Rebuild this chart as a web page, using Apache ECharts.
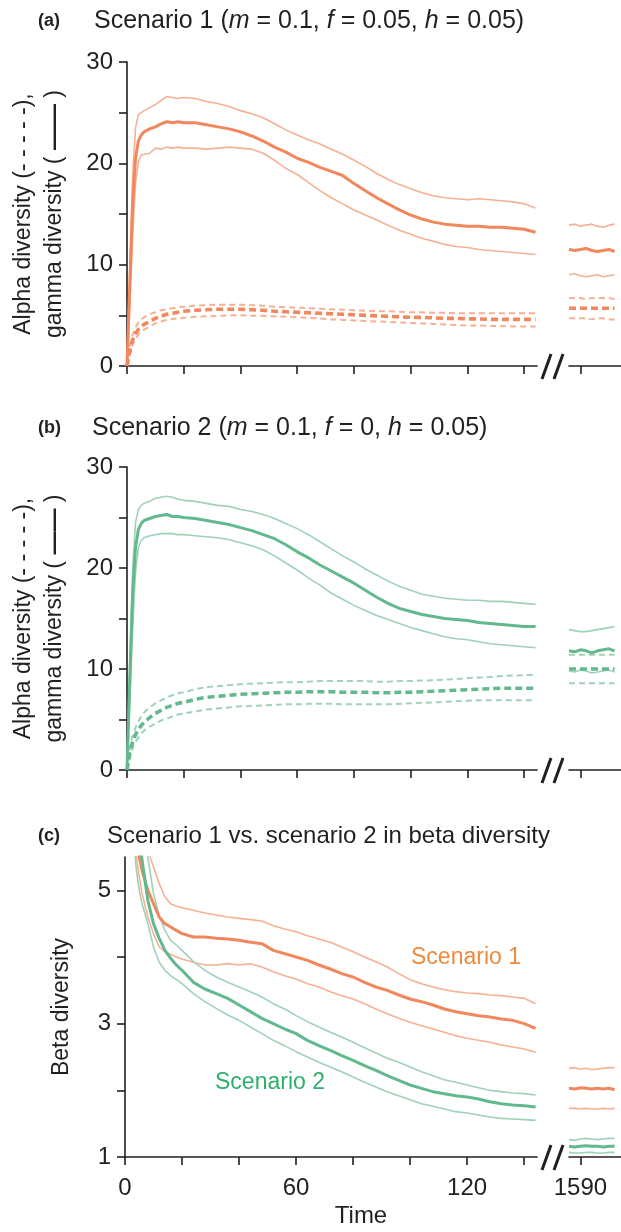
<!DOCTYPE html>
<html><head><meta charset="utf-8">
<script src="https://cdn.jsdelivr.net/npm/echarts@6/dist/echarts.min.js"></script>
<style>html,body{margin:0;padding:0;background:#fff}#c{width:621px;height:1232px}</style>
</head><body><div id="c"></div>
<script>
// ---------- data ----------
const TIME = [0,1,2,3,4,5,6,8,10,12,14,16,18,20,24,28,32,36,40,44,48,52,56,60,64,68,72,76,80,84,88,92,96,100,104,108,112,116,120,124,128,132,136,140,144];
const TIME_LATE = [1586,1588,1590,1592,1594,1596,1598,1600,1602];
const TIME_BETA = [3,4,5,6,8,10,12,14,16,18,20,24,28,32,36,40,44,48,52,56,60,64,68,72,76,80,84,88,92,96,100,104,108,112,116,120,124,128,132,136,140,144];

const X_TICKS = [0,20,40,60,80,100,120,140];
const X_LABELS = [0,60,120];
const LATE_TICKS = [1590];
const BETA_TICKS = [1,2,3,4,5];
const BETA_LABELS = [1,3,5];

// (a) Scenario 1
const A_GAMMA_MEAN = [0,8,16,20.5,22.2,22.8,23.1, 23.4,23.6,23.9,24.1,24.0,24.1,24.0, 24.0,23.8,23.6,23.4,23.1,22.7,22.2,21.6,21.1,20.5,20.1,19.6,19.2,18.8,18.0,17.3,16.6,16.0,15.4,14.9,14.5,14.2,14.0,13.9,13.8,13.8,13.7,13.7,13.6,13.5,13.2];
const A_GAMMA_HI = [0,10,19,23.5,24.8,25.0,25.2, 25.5,25.8,26.2,26.6,26.5,26.4,26.5, 26.4,26.1,25.9,25.6,25.2,24.9,24.5,23.9,23.3,22.8,22.3,21.9,21.4,20.9,20.3,19.7,19.0,18.4,17.9,17.5,17.1,16.8,16.6,16.5,16.4,16.5,16.4,16.3,16.2,16.0,15.6];
const A_GAMMA_LO = [0,6,13,18,20.2,20.8,20.9, 21.0,21.5,21.4,21.6,21.5,21.6,21.5, 21.5,21.4,21.5,21.6,21.5,21.4,21.0,20.3,19.5,18.9,18.1,17.3,16.6,16.0,15.4,14.9,14.4,13.9,13.4,13.0,12.6,12.3,12.0,11.8,11.7,11.5,11.4,11.3,11.2,11.1,11.0];
const A_ALPHA_MEAN = [0,1.5,2.6,3.2,3.6,3.9,4.1, 4.4,4.7,4.9,5.1,5.2,5.3,5.4, 5.5,5.55,5.6,5.6,5.6,5.55,5.5,5.4,5.35,5.3,5.25,5.2,5.15,5.1,5.05,5.0,4.95,4.9,4.85,4.8,4.8,4.75,4.7,4.7,4.65,4.65,4.6,4.6,4.6,4.6,4.6];
const A_ALPHA_HI = [0,1.9,3.1,3.8,4.3,4.6,4.8, 5.1,5.3,5.5,5.6,5.7,5.8,5.85, 5.95,6.0,6.05,6.05,6.05,6.0,5.95,5.85,5.8,5.75,5.7,5.65,5.6,5.55,5.5,5.45,5.4,5.4,5.35,5.3,5.3,5.25,5.25,5.2,5.2,5.2,5.2,5.2,5.2,5.2,5.2];
const A_ALPHA_LO = [0,1.1,2.1,2.7,3.1,3.4,3.6, 3.9,4.2,4.4,4.55,4.65,4.7,4.75, 4.85,4.9,4.95,5.0,5.0,4.95,4.95,4.9,4.85,4.8,4.75,4.7,4.6,4.55,4.5,4.45,4.4,4.35,4.3,4.25,4.2,4.15,4.1,4.05,4.0,4.0,3.95,3.95,3.9,3.9,3.9];
const A_GAMMA_MEAN_LATE = [11.5,11.4,11.5,11.6,11.4,11.3,11.4,11.5,11.3];
const A_GAMMA_HI_LATE = [13.9,14.0,13.8,13.9,14.0,13.8,13.7,13.9,14.0];
const A_GAMMA_LO_LATE = [9.0,9.1,8.9,8.8,8.9,9.0,8.8,8.9,9.0];
const A_ALPHA_MEAN_LATE = [5.7,5.7,5.7,5.7,5.7,5.7,5.7,5.7,5.7];
const A_ALPHA_HI_LATE = [6.7,6.7,6.7,6.6,6.7,6.7,6.7,6.7,6.6];
const A_ALPHA_LO_LATE = [4.7,4.7,4.7,4.7,4.6,4.7,4.7,4.6,4.6];

// (b) Scenario 2
const B_GAMMA_MEAN = [0,9,17.5,22,23.8,24.4,24.7, 24.9,25.1,25.2,25.3,25.1,25.1,25.0, 24.9,24.7,24.5,24.3,24.0,23.7,23.3,22.9,22.3,21.6,21.0,20.3,19.7,19.1,18.5,17.8,17.1,16.5,16.0,15.7,15.4,15.2,15.0,14.9,14.8,14.6,14.5,14.4,14.3,14.2,14.2];
const B_GAMMA_HI = [0,11,20,24.5,25.8,26.2,26.4, 26.6,26.9,27.0,27.1,27.0,26.8,26.7, 26.6,26.4,26.2,26.1,25.8,25.6,25.3,24.9,24.4,23.9,23.3,22.6,21.9,21.2,20.6,19.9,19.3,18.7,18.2,17.8,17.4,17.2,17.0,16.9,16.8,16.8,16.7,16.7,16.6,16.5,16.4];
const B_GAMMA_LO = [0,7,14,19.5,22,22.7,23.0, 23.2,23.3,23.4,23.4,23.4,23.3,23.3, 23.2,23.1,23.0,22.8,22.5,22.2,21.8,21.2,20.5,19.8,19.0,18.3,17.5,16.9,16.3,15.8,15.3,14.9,14.5,14.1,13.8,13.5,13.2,13.0,12.9,12.7,12.5,12.4,12.3,12.2,12.1];
const B_ALPHA_MEAN = [0,1.7,2.8,3.5,4.0,4.4,4.7, 5.2,5.6,5.9,6.2,6.4,6.6,6.7, 7.0,7.2,7.3,7.4,7.5,7.55,7.6,7.65,7.7,7.7,7.75,7.75,7.75,7.7,7.7,7.7,7.65,7.65,7.7,7.7,7.75,7.8,7.85,7.9,7.95,8.0,8.05,8.1,8.1,8.1,8.1];
const B_ALPHA_HI = [0,2.2,3.4,4.2,4.8,5.3,5.7, 6.2,6.6,6.9,7.2,7.4,7.6,7.7, 8.0,8.2,8.3,8.4,8.5,8.55,8.6,8.65,8.7,8.7,8.75,8.8,8.8,8.8,8.8,8.8,8.75,8.75,8.8,8.8,8.85,8.9,8.95,9.0,9.1,9.15,9.2,9.3,9.35,9.4,9.4];
const B_ALPHA_LO = [0,1.2,2.2,2.8,3.2,3.6,3.9, 4.3,4.6,4.9,5.1,5.3,5.5,5.6, 5.8,6.0,6.1,6.2,6.3,6.35,6.4,6.45,6.5,6.5,6.55,6.55,6.55,6.5,6.5,6.5,6.5,6.5,6.55,6.6,6.65,6.7,6.75,6.8,6.85,6.9,6.9,6.9,6.9,6.9,6.9];
const B_GAMMA_MEAN_LATE = [11.8,11.7,11.9,11.8,11.6,11.8,11.9,12.0,11.8];
const B_GAMMA_HI_LATE = [13.9,13.8,13.7,13.7,13.8,13.9,14.0,14.1,14.2];
const B_GAMMA_LO_LATE = [9.8,9.7,9.9,9.8,9.6,9.7,9.8,9.9,9.7];
const B_ALPHA_MEAN_LATE = [10.0,10.0,10.0,10.0,10.0,10.0,10.0,10.0,10.0];
const B_ALPHA_HI_LATE = [11.4,11.4,11.4,11.4,11.4,11.4,11.4,11.4,11.4];
const B_ALPHA_LO_LATE = [8.6,8.6,8.6,8.6,8.6,8.6,8.6,8.6,8.6];

// (c) beta diversity
const C_S1_MEAN = [6.2,5.8,5.5,5.3, 5.0,4.8,4.6,4.5,4.45,4.4,4.35, 4.3,4.3,4.28,4.27,4.25,4.22,4.2,4.1,4.05,4.0,3.95,3.88,3.82,3.75,3.7,3.62,3.55,3.5,3.43,3.37,3.33,3.28,3.22,3.18,3.15,3.12,3.1,3.07,3.05,3.0,2.93];
const C_S1_HI = [7.5,6.8,6.3,5.95, 5.6,5.35,5.1,4.9,4.8,4.76,4.74, 4.7,4.66,4.63,4.6,4.58,4.56,4.54,4.47,4.42,4.38,4.32,4.27,4.22,4.15,4.08,4.0,3.93,3.85,3.75,3.66,3.6,3.55,3.51,3.48,3.46,3.45,3.43,3.42,3.4,3.38,3.3];
const C_S1_LO = [5.9,5.5,5.2,4.95, 4.6,4.35,4.15,4.08,4.04,4.0,3.97, 3.92,3.88,3.88,3.9,3.88,3.9,3.85,3.78,3.72,3.67,3.6,3.55,3.48,3.42,3.37,3.3,3.22,3.15,3.08,3.02,2.97,2.92,2.87,2.82,2.78,2.75,2.72,2.68,2.65,2.62,2.57];
const C_S2_MEAN = [7.0,6.3,5.8,5.45, 4.85,4.5,4.28,4.1,3.98,3.88,3.8, 3.62,3.52,3.45,3.38,3.28,3.18,3.08,3.0,2.92,2.85,2.75,2.67,2.6,2.52,2.45,2.37,2.3,2.22,2.15,2.08,2.03,1.98,1.95,1.92,1.9,1.87,1.83,1.8,1.78,1.77,1.75];
const C_S2_HI = [8,7,6.4,6.0, 5.5,4.95,4.62,4.4,4.25,4.18,4.1, 3.93,3.8,3.7,3.62,3.55,3.48,3.4,3.3,3.22,3.12,3.03,2.95,2.87,2.8,2.72,2.64,2.56,2.48,2.42,2.35,2.28,2.22,2.16,2.12,2.08,2.04,2.0,1.98,1.96,1.95,1.93];
const C_S2_LO = [5.8,5.3,5.0,4.8, 4.5,4.15,3.92,3.8,3.72,3.66,3.6, 3.45,3.33,3.23,3.13,3.05,2.95,2.85,2.75,2.67,2.58,2.5,2.42,2.35,2.28,2.2,2.12,2.05,1.98,1.92,1.86,1.8,1.76,1.72,1.68,1.66,1.63,1.6,1.58,1.57,1.56,1.55];
const C_S1_MEAN_LATE = [2.03,2.02,2.04,2.03,2.02,2.03,2.02,2.03,2.01];
const C_S1_HI_LATE = [2.33,2.34,2.32,2.33,2.31,2.32,2.33,2.34,2.34];
const C_S1_LO_LATE = [1.73,1.73,1.72,1.73,1.72,1.72,1.73,1.72,1.73];
const C_S2_MEAN_LATE = [1.16,1.15,1.16,1.17,1.16,1.16,1.15,1.16,1.16];
const C_S2_HI_LATE = [1.26,1.25,1.27,1.28,1.27,1.26,1.27,1.28,1.28];
const C_S2_LO_LATE = [1.07,1.06,1.06,1.07,1.07,1.06,1.06,1.07,1.07];

// ---------- style ----------
const FONT = 'Liberation Sans, Arial, Helvetica, sans-serif';
const INK = '#231F20';
const OR = '#F1875C', OR_L = '#F5B194';
const GR = '#62B98D', GR_L = '#9FD2B7';
const GRID_TOPS = [62, 467, 857];
const GRID_H = [304, 303, 300];
const MAIN_L = 125, MAIN_W = 412, LATE_L = 569, LATE_W = 52;

function pairs(t, v) { return t.map((x, i) => [x, v[i]]); }
function ln(g, t, v, color, width, dash, z) {
  return { type: 'line', xAxisIndex: g, yAxisIndex: g, data: pairs(t, v), showSymbol: false, symbol: 'none',
    silent: true, animation: false, z: z, clip: true,
    lineStyle: { color: color, width: width, type: dash || 'solid', cap: 'butt', join: 'round' } };
}
function alphaGammaSeries(g, T, TL, d, c, cl) {
  const out = [];
  const add = (gi, tt, arr, col, w, dash, z) => out.push(ln(gi, tt, arr, col, w, dash, z));
  [[g, T, 0], [g + 1, TL, 1]].forEach(([gi, tt, k]) => {
    add(gi, tt, d.ahi[k], cl, 2, [6, 4], 2);
    add(gi, tt, d.alo[k], cl, 2, [6, 4], 2);
    add(gi, tt, d.ghi[k], cl, 1.6, 'solid', 2);
    add(gi, tt, d.glo[k], cl, 1.6, 'solid', 2);
    add(gi, tt, d.am[k], c, 3.6, [7, 4], 3);
    add(gi, tt, d.gm[k], c, 3, 'solid', 3);
  });
  return out;
}

const series = [].concat(
  alphaGammaSeries(0, TIME, TIME_LATE, {
    gm: [A_GAMMA_MEAN, A_GAMMA_MEAN_LATE], ghi: [A_GAMMA_HI, A_GAMMA_HI_LATE], glo: [A_GAMMA_LO, A_GAMMA_LO_LATE],
    am: [A_ALPHA_MEAN, A_ALPHA_MEAN_LATE], ahi: [A_ALPHA_HI, A_ALPHA_HI_LATE], alo: [A_ALPHA_LO, A_ALPHA_LO_LATE]
  }, OR, OR_L),
  alphaGammaSeries(2, TIME, TIME_LATE, {
    gm: [B_GAMMA_MEAN, B_GAMMA_MEAN_LATE], ghi: [B_GAMMA_HI, B_GAMMA_HI_LATE], glo: [B_GAMMA_LO, B_GAMMA_LO_LATE],
    am: [B_ALPHA_MEAN, B_ALPHA_MEAN_LATE], ahi: [B_ALPHA_HI, B_ALPHA_HI_LATE], alo: [B_ALPHA_LO, B_ALPHA_LO_LATE]
  }, GR, GR_L),
  [
    ln(4, TIME_BETA, C_S1_HI, OR_L, 1.6, 'solid', 2),
    ln(4, TIME_BETA, C_S1_LO, OR_L, 1.6, 'solid', 2),
    ln(4, TIME_BETA, C_S2_HI, GR_L, 1.6, 'solid', 2),
    ln(4, TIME_BETA, C_S2_LO, GR_L, 1.6, 'solid', 2),
    ln(4, TIME_BETA, C_S1_MEAN, OR, 3, 'solid', 3),
    ln(4, TIME_BETA, C_S2_MEAN, GR, 3, 'solid', 3),
    ln(5, TIME_LATE, C_S1_HI_LATE, OR_L, 1.6, 'solid', 2),
    ln(5, TIME_LATE, C_S1_LO_LATE, OR_L, 1.6, 'solid', 2),
    ln(5, TIME_LATE, C_S2_HI_LATE, GR_L, 1.6, 'solid', 2),
    ln(5, TIME_LATE, C_S2_LO_LATE, GR_L, 1.6, 'solid', 2),
    ln(5, TIME_LATE, C_S1_MEAN_LATE, OR, 3, 'solid', 3),
    ln(5, TIME_LATE, C_S2_MEAN_LATE, GR, 3, 'solid', 3)
  ]
);

const grids = [], xAxes = [], yAxes = [];
const axisLine = { show: true, onZero: false, lineStyle: { color: INK, width: 1.6 } };
const tickStyle = { color: INK, width: 1.6 };
const labelStyle = { color: INK, fontSize: 24, fontFamily: FONT };
const nameRich = {
  n: { fontSize: 23, fontFamily: FONT, color: INK, lineHeight: 31 },
  s: { fontSize: 23, fontFamily: FONT, color: INK, fontWeight: 'bold', lineHeight: 31 }
};
const plain = v => String(v);
for (let p = 0; p < 3; p++) {
  const top = GRID_TOPS[p], h = GRID_H[p];
  grids.push({ left: MAIN_L, top: top, width: MAIN_W, height: h });
  grids.push({ left: LATE_L, top: top, width: LATE_W, height: h });
  const showX = p === 2;
  xAxes.push({ type: 'value', gridIndex: 2 * p, min: 0, max: 144.5, axisLine: axisLine,
    axisTick: { show: true, length: 8, lineStyle: tickStyle, customValues: X_TICKS },
    axisLabel: Object.assign({ show: showX, margin: 19, customValues: X_LABELS, formatter: plain }, labelStyle),
    splitLine: { show: false },
    name: showX ? 'Time' : '', nameLocation: 'middle', nameGap: 47,
    nameTextStyle: Object.assign({ padding: [0, 0, 0, 60] }, labelStyle) });
  xAxes.push({ type: 'value', gridIndex: 2 * p + 1, min: 1586, max: 1604.25, axisLine: axisLine,
    axisTick: { show: true, length: 8, lineStyle: tickStyle, customValues: LATE_TICKS },
    axisLabel: Object.assign({ show: showX, margin: 19, customValues: LATE_TICKS, formatter: plain }, labelStyle),
    splitLine: { show: false } });
  if (p < 2) {
    yAxes.push({ type: 'value', gridIndex: 2 * p, min: 0, max: 30, interval: 5, axisLine: axisLine,
      axisTick: { show: true, length: 8, lineStyle: tickStyle },
      axisLabel: Object.assign({ margin: 14, formatter: v => (v % 10 === 0 ? String(v) : '') }, labelStyle),
      splitLine: { show: false },
      name: '{n|Alpha diversity (- - - - -),}\n{n|gamma diversity (}{s| —— }{n|)}',
      nameLocation: 'middle', nameRotate: 90, nameGap: 57,
      nameTextStyle: { fontSize: 23, fontFamily: FONT, color: INK, lineHeight: 31, rich: nameRich } });
    yAxes.push({ type: 'value', gridIndex: 2 * p + 1, min: 0, max: 30, show: false });
  } else {
    yAxes.push({ type: 'value', gridIndex: 4, min: 1, max: 5.5, axisLine: axisLine,
      axisTick: { show: true, length: 8, lineStyle: tickStyle, customValues: BETA_TICKS },
      axisLabel: Object.assign({ margin: 14, customValues: BETA_LABELS, formatter: plain }, labelStyle),
      splitLine: { show: false },
      name: 'Beta diversity', nameLocation: 'middle', nameRotate: 90, nameGap: 52,
      nameTextStyle: Object.assign({}, labelStyle, { fontSize: 23 }) });
    yAxes.push({ type: 'value', gridIndex: 5, min: 1, max: 5.5, show: false });
  }
}

// decorations: axis-break marks and texts
const graphic = [];
const AX_Y = [366, 770, 1157];
AX_Y.forEach(y => {
  graphic.push({ type: 'line', shape: { x1: 542, y1: y + 13, x2: 551, y2: y - 12 }, style: { stroke: INK, lineWidth: 3 }, z: 100 });
  graphic.push({ type: 'line', shape: { x1: 554, y1: y + 13, x2: 563, y2: y - 12 }, style: { stroke: INK, lineWidth: 3 }, z: 100 });
});
const titleRich = { i: { fontSize: 25, fontFamily: FONT, fill: INK, fontStyle: 'italic' } };
function txt(x, y, text, extra) {
  return { type: 'text', x: x, y: y, z: 100, style: Object.assign({ text: text, fontSize: 25, fontFamily: FONT, fill: INK,
    align: 'left', verticalAlign: 'middle', rich: titleRich }, extra || {}) };
}
graphic.push(txt(38, 21, '(a)', { fontSize: 18, fontWeight: 'bold' }));
graphic.push(txt(94, 21, 'Scenario 1 ({i|m} = 0.1, {i|f} = 0.05, {i|h} = 0.05)'));
graphic.push(txt(38, 428, '(b)', { fontSize: 18, fontWeight: 'bold' }));
graphic.push(txt(92, 428, 'Scenario 2 ({i|m} = 0.1, {i|f} = 0, {i|h} = 0.05)'));
graphic.push(txt(38, 836, '(c)', { fontSize: 18, fontWeight: 'bold' }));
graphic.push(txt(107, 836, 'Scenario 1 vs. scenario 2 in beta diversity', { fontSize: 24 }));
graphic.push(txt(466, 958, 'Scenario 1', { align: 'center', fill: '#EF8A3C', fontSize: 23 }));
graphic.push(txt(270, 1083, 'Scenario 2', { align: 'center', fill: '#2FB06A', fontSize: 23 }));

const chart = echarts.init(document.getElementById('c'), null, { renderer: 'canvas' });
chart.setOption({
  animation: false,
  backgroundColor: '#fff',
  grid: grids, xAxis: xAxes, yAxis: yAxes, series: series, graphic: graphic
});
</script></body></html>
